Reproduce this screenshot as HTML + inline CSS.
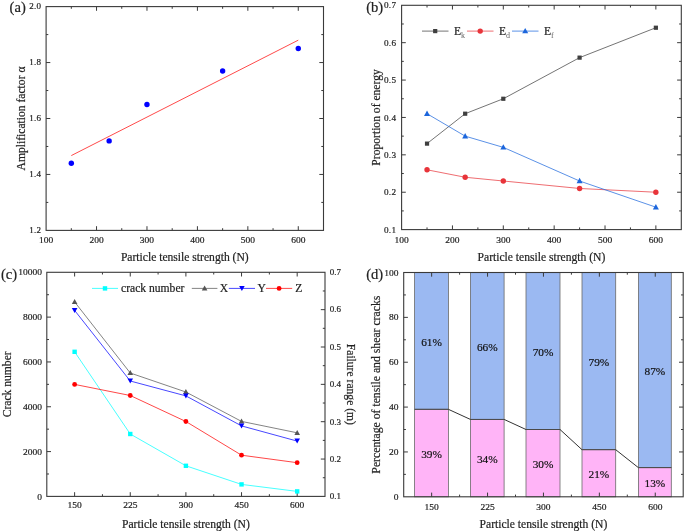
<!DOCTYPE html>
<html><head><meta charset="utf-8"><style>
html,body{margin:0;padding:0;background:#fff;}
svg{display:block;filter:blur(0.5px);}
text{font-family:"Liberation Serif", serif;}
</style></head><body>
<svg width="685" height="532" viewBox="0 0 685 532">
<rect width="685" height="532" fill="#fff"/>
<line x1="96.54" y1="230.40" x2="96.54" y2="226.20" stroke="#3a3a3a" stroke-width="1.0" />
<line x1="96.54" y1="6.60" x2="96.54" y2="10.80" stroke="#3a3a3a" stroke-width="1.0" />
<line x1="146.97" y1="230.40" x2="146.97" y2="226.20" stroke="#3a3a3a" stroke-width="1.0" />
<line x1="146.97" y1="6.60" x2="146.97" y2="10.80" stroke="#3a3a3a" stroke-width="1.0" />
<line x1="197.41" y1="230.40" x2="197.41" y2="226.20" stroke="#3a3a3a" stroke-width="1.0" />
<line x1="197.41" y1="6.60" x2="197.41" y2="10.80" stroke="#3a3a3a" stroke-width="1.0" />
<line x1="247.85" y1="230.40" x2="247.85" y2="226.20" stroke="#3a3a3a" stroke-width="1.0" />
<line x1="247.85" y1="6.60" x2="247.85" y2="10.80" stroke="#3a3a3a" stroke-width="1.0" />
<line x1="298.28" y1="230.40" x2="298.28" y2="226.20" stroke="#3a3a3a" stroke-width="1.0" />
<line x1="298.28" y1="6.60" x2="298.28" y2="10.80" stroke="#3a3a3a" stroke-width="1.0" />
<line x1="71.32" y1="230.40" x2="71.32" y2="228.20" stroke="#3a3a3a" stroke-width="1.0" />
<line x1="71.32" y1="6.60" x2="71.32" y2="8.80" stroke="#3a3a3a" stroke-width="1.0" />
<line x1="121.75" y1="230.40" x2="121.75" y2="228.20" stroke="#3a3a3a" stroke-width="1.0" />
<line x1="121.75" y1="6.60" x2="121.75" y2="8.80" stroke="#3a3a3a" stroke-width="1.0" />
<line x1="172.19" y1="230.40" x2="172.19" y2="228.20" stroke="#3a3a3a" stroke-width="1.0" />
<line x1="172.19" y1="6.60" x2="172.19" y2="8.80" stroke="#3a3a3a" stroke-width="1.0" />
<line x1="222.63" y1="230.40" x2="222.63" y2="228.20" stroke="#3a3a3a" stroke-width="1.0" />
<line x1="222.63" y1="6.60" x2="222.63" y2="8.80" stroke="#3a3a3a" stroke-width="1.0" />
<line x1="273.06" y1="230.40" x2="273.06" y2="228.20" stroke="#3a3a3a" stroke-width="1.0" />
<line x1="273.06" y1="6.60" x2="273.06" y2="8.80" stroke="#3a3a3a" stroke-width="1.0" />
<line x1="46.10" y1="174.45" x2="50.30" y2="174.45" stroke="#3a3a3a" stroke-width="1.0" />
<line x1="323.50" y1="174.45" x2="319.30" y2="174.45" stroke="#3a3a3a" stroke-width="1.0" />
<line x1="46.10" y1="118.50" x2="50.30" y2="118.50" stroke="#3a3a3a" stroke-width="1.0" />
<line x1="323.50" y1="118.50" x2="319.30" y2="118.50" stroke="#3a3a3a" stroke-width="1.0" />
<line x1="46.10" y1="62.55" x2="50.30" y2="62.55" stroke="#3a3a3a" stroke-width="1.0" />
<line x1="323.50" y1="62.55" x2="319.30" y2="62.55" stroke="#3a3a3a" stroke-width="1.0" />
<line x1="46.10" y1="202.42" x2="48.30" y2="202.42" stroke="#3a3a3a" stroke-width="1.0" />
<line x1="323.50" y1="202.42" x2="321.30" y2="202.42" stroke="#3a3a3a" stroke-width="1.0" />
<line x1="46.10" y1="146.47" x2="48.30" y2="146.47" stroke="#3a3a3a" stroke-width="1.0" />
<line x1="323.50" y1="146.47" x2="321.30" y2="146.47" stroke="#3a3a3a" stroke-width="1.0" />
<line x1="46.10" y1="90.53" x2="48.30" y2="90.53" stroke="#3a3a3a" stroke-width="1.0" />
<line x1="323.50" y1="90.53" x2="321.30" y2="90.53" stroke="#3a3a3a" stroke-width="1.0" />
<line x1="46.10" y1="34.58" x2="48.30" y2="34.58" stroke="#3a3a3a" stroke-width="1.0" />
<line x1="323.50" y1="34.58" x2="321.30" y2="34.58" stroke="#3a3a3a" stroke-width="1.0" />
<line x1="71.32" y1="155.57" x2="298.28" y2="40.17" stroke="#ff4a4a" stroke-width="1"/>
<circle cx="71.32" cy="163.26" r="2.7" fill="#0000ff"/>
<circle cx="109.15" cy="140.88" r="2.7" fill="#0000ff"/>
<circle cx="146.97" cy="104.51" r="2.7" fill="#0000ff"/>
<circle cx="222.63" cy="70.94" r="2.7" fill="#0000ff"/>
<circle cx="298.28" cy="48.56" r="2.7" fill="#0000ff"/>
<rect x="46.10" y="6.60" width="277.40" height="223.80" fill="none" stroke="#3a3a3a" stroke-width="1.1"/>
<text transform="translate(46.10,243.00) scale(1,0.93)" font-size="9.5" text-anchor="middle" fill="#222" stroke="#222" stroke-width="0.2" >100</text>
<text transform="translate(96.54,243.00) scale(1,0.93)" font-size="9.5" text-anchor="middle" fill="#222" stroke="#222" stroke-width="0.2" >200</text>
<text transform="translate(146.97,243.00) scale(1,0.93)" font-size="9.5" text-anchor="middle" fill="#222" stroke="#222" stroke-width="0.2" >300</text>
<text transform="translate(197.41,243.00) scale(1,0.93)" font-size="9.5" text-anchor="middle" fill="#222" stroke="#222" stroke-width="0.2" >400</text>
<text transform="translate(247.85,243.00) scale(1,0.93)" font-size="9.5" text-anchor="middle" fill="#222" stroke="#222" stroke-width="0.2" >500</text>
<text transform="translate(298.28,243.00) scale(1,0.93)" font-size="9.5" text-anchor="middle" fill="#222" stroke="#222" stroke-width="0.2" >600</text>
<text x="41.00" y="232.70" font-size="9" text-anchor="end" fill="#222" stroke="#222" stroke-width="0.2" >1<tspan dx="0.3">.</tspan><tspan dx="0.3">2</tspan></text>
<text x="41.00" y="176.75" font-size="9" text-anchor="end" fill="#222" stroke="#222" stroke-width="0.2" >1<tspan dx="0.3">.</tspan><tspan dx="0.3">4</tspan></text>
<text x="41.00" y="120.80" font-size="9" text-anchor="end" fill="#222" stroke="#222" stroke-width="0.2" >1<tspan dx="0.3">.</tspan><tspan dx="0.3">6</tspan></text>
<text x="41.00" y="64.85" font-size="9" text-anchor="end" fill="#222" stroke="#222" stroke-width="0.2" >1<tspan dx="0.3">.</tspan><tspan dx="0.3">8</tspan></text>
<text x="41.00" y="8.90" font-size="9" text-anchor="end" fill="#222" stroke="#222" stroke-width="0.2" >2<tspan dx="0.3">.</tspan><tspan dx="0.3">0</tspan></text>
<text x="184.80" y="261.00" font-size="11.6" text-anchor="middle" fill="#222" stroke="#222" stroke-width="0.2" >Particle tensile strength (N)</text>
<text transform="translate(25.0,118.50) rotate(-90)" font-size="11.6" text-anchor="middle" fill="#222" stroke="#222" stroke-width="0.2">Amplification factor α</text>
<text x="9.60" y="12.20" font-size="14.6" text-anchor="start" fill="#222" stroke="#222" stroke-width="0.2" >(a)</text>
<line x1="452.45" y1="229.60" x2="452.45" y2="225.40" stroke="#3a3a3a" stroke-width="1.0" />
<line x1="452.45" y1="5.30" x2="452.45" y2="9.50" stroke="#3a3a3a" stroke-width="1.0" />
<line x1="503.31" y1="229.60" x2="503.31" y2="225.40" stroke="#3a3a3a" stroke-width="1.0" />
<line x1="503.31" y1="5.30" x2="503.31" y2="9.50" stroke="#3a3a3a" stroke-width="1.0" />
<line x1="554.16" y1="229.60" x2="554.16" y2="225.40" stroke="#3a3a3a" stroke-width="1.0" />
<line x1="554.16" y1="5.30" x2="554.16" y2="9.50" stroke="#3a3a3a" stroke-width="1.0" />
<line x1="605.02" y1="229.60" x2="605.02" y2="225.40" stroke="#3a3a3a" stroke-width="1.0" />
<line x1="605.02" y1="5.30" x2="605.02" y2="9.50" stroke="#3a3a3a" stroke-width="1.0" />
<line x1="655.87" y1="229.60" x2="655.87" y2="225.40" stroke="#3a3a3a" stroke-width="1.0" />
<line x1="655.87" y1="5.30" x2="655.87" y2="9.50" stroke="#3a3a3a" stroke-width="1.0" />
<line x1="427.03" y1="229.60" x2="427.03" y2="227.40" stroke="#3a3a3a" stroke-width="1.0" />
<line x1="427.03" y1="5.30" x2="427.03" y2="7.50" stroke="#3a3a3a" stroke-width="1.0" />
<line x1="477.88" y1="229.60" x2="477.88" y2="227.40" stroke="#3a3a3a" stroke-width="1.0" />
<line x1="477.88" y1="5.30" x2="477.88" y2="7.50" stroke="#3a3a3a" stroke-width="1.0" />
<line x1="528.74" y1="229.60" x2="528.74" y2="227.40" stroke="#3a3a3a" stroke-width="1.0" />
<line x1="528.74" y1="5.30" x2="528.74" y2="7.50" stroke="#3a3a3a" stroke-width="1.0" />
<line x1="579.59" y1="229.60" x2="579.59" y2="227.40" stroke="#3a3a3a" stroke-width="1.0" />
<line x1="579.59" y1="5.30" x2="579.59" y2="7.50" stroke="#3a3a3a" stroke-width="1.0" />
<line x1="630.45" y1="229.60" x2="630.45" y2="227.40" stroke="#3a3a3a" stroke-width="1.0" />
<line x1="630.45" y1="5.30" x2="630.45" y2="7.50" stroke="#3a3a3a" stroke-width="1.0" />
<line x1="401.60" y1="192.22" x2="405.80" y2="192.22" stroke="#3a3a3a" stroke-width="1.0" />
<line x1="681.30" y1="192.22" x2="677.10" y2="192.22" stroke="#3a3a3a" stroke-width="1.0" />
<line x1="401.60" y1="154.83" x2="405.80" y2="154.83" stroke="#3a3a3a" stroke-width="1.0" />
<line x1="681.30" y1="154.83" x2="677.10" y2="154.83" stroke="#3a3a3a" stroke-width="1.0" />
<line x1="401.60" y1="117.45" x2="405.80" y2="117.45" stroke="#3a3a3a" stroke-width="1.0" />
<line x1="681.30" y1="117.45" x2="677.10" y2="117.45" stroke="#3a3a3a" stroke-width="1.0" />
<line x1="401.60" y1="80.07" x2="405.80" y2="80.07" stroke="#3a3a3a" stroke-width="1.0" />
<line x1="681.30" y1="80.07" x2="677.10" y2="80.07" stroke="#3a3a3a" stroke-width="1.0" />
<line x1="401.60" y1="42.68" x2="405.80" y2="42.68" stroke="#3a3a3a" stroke-width="1.0" />
<line x1="681.30" y1="42.68" x2="677.10" y2="42.68" stroke="#3a3a3a" stroke-width="1.0" />
<line x1="401.60" y1="210.91" x2="403.80" y2="210.91" stroke="#3a3a3a" stroke-width="1.0" />
<line x1="681.30" y1="210.91" x2="679.10" y2="210.91" stroke="#3a3a3a" stroke-width="1.0" />
<line x1="401.60" y1="173.53" x2="403.80" y2="173.53" stroke="#3a3a3a" stroke-width="1.0" />
<line x1="681.30" y1="173.53" x2="679.10" y2="173.53" stroke="#3a3a3a" stroke-width="1.0" />
<line x1="401.60" y1="136.14" x2="403.80" y2="136.14" stroke="#3a3a3a" stroke-width="1.0" />
<line x1="681.30" y1="136.14" x2="679.10" y2="136.14" stroke="#3a3a3a" stroke-width="1.0" />
<line x1="401.60" y1="98.76" x2="403.80" y2="98.76" stroke="#3a3a3a" stroke-width="1.0" />
<line x1="681.30" y1="98.76" x2="679.10" y2="98.76" stroke="#3a3a3a" stroke-width="1.0" />
<line x1="401.60" y1="61.37" x2="403.80" y2="61.37" stroke="#3a3a3a" stroke-width="1.0" />
<line x1="681.30" y1="61.37" x2="679.10" y2="61.37" stroke="#3a3a3a" stroke-width="1.0" />
<line x1="401.60" y1="23.99" x2="403.80" y2="23.99" stroke="#3a3a3a" stroke-width="1.0" />
<line x1="681.30" y1="23.99" x2="679.10" y2="23.99" stroke="#3a3a3a" stroke-width="1.0" />
<polyline points="427.03,143.62 465.17,113.71 503.31,98.76 579.59,57.64 655.87,27.73" fill="none" stroke="#3f3f3f" stroke-width="1" stroke-opacity="0.72"/>
<polyline points="427.03,169.79 465.17,177.26 503.31,181.00 579.59,188.48 655.87,192.22" fill="none" stroke="#e8343a" stroke-width="1" stroke-opacity="0.72"/>
<polyline points="427.03,113.71 465.17,136.14 503.31,147.36 579.59,181.00 655.87,207.17" fill="none" stroke="#1c66dc" stroke-width="1" stroke-opacity="0.72"/>
<rect x="424.93" y="141.52" width="4.2" height="4.2" fill="#3f3f3f"/>
<rect x="463.07" y="111.61" width="4.2" height="4.2" fill="#3f3f3f"/>
<rect x="501.21" y="96.66" width="4.2" height="4.2" fill="#3f3f3f"/>
<rect x="577.49" y="55.54" width="4.2" height="4.2" fill="#3f3f3f"/>
<rect x="653.77" y="25.63" width="4.2" height="4.2" fill="#3f3f3f"/>
<circle cx="427.03" cy="169.79" r="2.7" fill="#e8343a"/>
<circle cx="465.17" cy="177.26" r="2.7" fill="#e8343a"/>
<circle cx="503.31" cy="181.00" r="2.7" fill="#e8343a"/>
<circle cx="579.59" cy="188.48" r="2.7" fill="#e8343a"/>
<circle cx="655.87" cy="192.22" r="2.7" fill="#e8343a"/>
<polygon points="424.03,115.98 430.03,115.98 427.03,110.58" fill="#1c66dc"/>
<polygon points="462.17,138.41 468.17,138.41 465.17,133.01" fill="#1c66dc"/>
<polygon points="500.31,149.62 506.31,149.62 503.31,144.22" fill="#1c66dc"/>
<polygon points="576.59,183.27 582.59,183.27 579.59,177.87" fill="#1c66dc"/>
<polygon points="652.87,209.44 658.87,209.44 655.87,204.04" fill="#1c66dc"/>
<line x1="422.00" y1="31.10" x2="448.50" y2="31.10" stroke="#3f3f3f" stroke-width="1" stroke-opacity="0.72"/>
<rect x="433.10" y="29.00" width="4.2" height="4.2" fill="#3f3f3f"/>
<text x="454.00" y="35.20" font-size="11.6" fill="#222" stroke="#222" stroke-width="0.2">E<tspan font-size="8" dy="2.6" fill="#666" stroke="none">k</tspan></text>
<line x1="467.00" y1="31.10" x2="493.50" y2="31.10" stroke="#e8343a" stroke-width="1" stroke-opacity="0.72"/>
<circle cx="480.20" cy="31.10" r="2.7" fill="#e8343a"/>
<text x="499.00" y="35.20" font-size="11.6" fill="#222" stroke="#222" stroke-width="0.2">E<tspan font-size="8" dy="2.6" fill="#666" stroke="none">d</tspan></text>
<line x1="512.00" y1="31.10" x2="538.50" y2="31.10" stroke="#1c66dc" stroke-width="1" stroke-opacity="0.72"/>
<polygon points="522.20,33.37 528.20,33.37 525.20,27.97" fill="#1c66dc"/>
<text x="544.00" y="35.20" font-size="11.6" fill="#222" stroke="#222" stroke-width="0.2">E<tspan font-size="8" dy="2.6" fill="#666" stroke="none">f</tspan></text>
<rect x="401.60" y="5.30" width="279.70" height="224.30" fill="none" stroke="#3a3a3a" stroke-width="1.1"/>
<text transform="translate(401.60,242.70) scale(1,0.93)" font-size="9.5" text-anchor="middle" fill="#222" stroke="#222" stroke-width="0.2" >100</text>
<text transform="translate(452.45,242.70) scale(1,0.93)" font-size="9.5" text-anchor="middle" fill="#222" stroke="#222" stroke-width="0.2" >200</text>
<text transform="translate(503.31,242.70) scale(1,0.93)" font-size="9.5" text-anchor="middle" fill="#222" stroke="#222" stroke-width="0.2" >300</text>
<text transform="translate(554.16,242.70) scale(1,0.93)" font-size="9.5" text-anchor="middle" fill="#222" stroke="#222" stroke-width="0.2" >400</text>
<text transform="translate(605.02,242.70) scale(1,0.93)" font-size="9.5" text-anchor="middle" fill="#222" stroke="#222" stroke-width="0.2" >500</text>
<text transform="translate(655.87,242.70) scale(1,0.93)" font-size="9.5" text-anchor="middle" fill="#222" stroke="#222" stroke-width="0.2" >600</text>
<text x="396.00" y="232.70" font-size="9.2" text-anchor="end" fill="#222" stroke="#222" stroke-width="0.2" >0<tspan dx="0.3">.</tspan><tspan dx="0.3">1</tspan></text>
<text x="396.00" y="195.32" font-size="9.2" text-anchor="end" fill="#222" stroke="#222" stroke-width="0.2" >0<tspan dx="0.3">.</tspan><tspan dx="0.3">2</tspan></text>
<text x="396.00" y="157.93" font-size="9.2" text-anchor="end" fill="#222" stroke="#222" stroke-width="0.2" >0<tspan dx="0.3">.</tspan><tspan dx="0.3">3</tspan></text>
<text x="396.00" y="120.55" font-size="9.2" text-anchor="end" fill="#222" stroke="#222" stroke-width="0.2" >0<tspan dx="0.3">.</tspan><tspan dx="0.3">4</tspan></text>
<text x="396.00" y="83.17" font-size="9.2" text-anchor="end" fill="#222" stroke="#222" stroke-width="0.2" >0<tspan dx="0.3">.</tspan><tspan dx="0.3">5</tspan></text>
<text x="396.00" y="45.78" font-size="9.2" text-anchor="end" fill="#222" stroke="#222" stroke-width="0.2" >0<tspan dx="0.3">.</tspan><tspan dx="0.3">6</tspan></text>
<text x="396.00" y="8.40" font-size="9.2" text-anchor="end" fill="#222" stroke="#222" stroke-width="0.2" >0<tspan dx="0.3">.</tspan><tspan dx="0.3">7</tspan></text>
<text x="541.45" y="261.00" font-size="11.6" text-anchor="middle" fill="#222" stroke="#222" stroke-width="0.2" >Particle tensile strength (N)</text>
<text transform="translate(379.5,117.45) rotate(-90)" font-size="11.6" text-anchor="middle" fill="#222" stroke="#222" stroke-width="0.2">Proportion of energy</text>
<text x="366.20" y="11.90" font-size="14.6" text-anchor="start" fill="#222" stroke="#222" stroke-width="0.2" >(b)</text>
<line x1="74.62" y1="496.40" x2="74.62" y2="492.20" stroke="#3a3a3a" stroke-width="1.0" />
<line x1="74.62" y1="272.30" x2="74.62" y2="276.50" stroke="#3a3a3a" stroke-width="1.0" />
<line x1="130.26" y1="496.40" x2="130.26" y2="492.20" stroke="#3a3a3a" stroke-width="1.0" />
<line x1="130.26" y1="272.30" x2="130.26" y2="276.50" stroke="#3a3a3a" stroke-width="1.0" />
<line x1="185.90" y1="496.40" x2="185.90" y2="492.20" stroke="#3a3a3a" stroke-width="1.0" />
<line x1="185.90" y1="272.30" x2="185.90" y2="276.50" stroke="#3a3a3a" stroke-width="1.0" />
<line x1="241.54" y1="496.40" x2="241.54" y2="492.20" stroke="#3a3a3a" stroke-width="1.0" />
<line x1="241.54" y1="272.30" x2="241.54" y2="276.50" stroke="#3a3a3a" stroke-width="1.0" />
<line x1="297.18" y1="496.40" x2="297.18" y2="492.20" stroke="#3a3a3a" stroke-width="1.0" />
<line x1="297.18" y1="272.30" x2="297.18" y2="276.50" stroke="#3a3a3a" stroke-width="1.0" />
<line x1="102.44" y1="496.40" x2="102.44" y2="494.20" stroke="#3a3a3a" stroke-width="1.0" />
<line x1="102.44" y1="272.30" x2="102.44" y2="274.50" stroke="#3a3a3a" stroke-width="1.0" />
<line x1="158.08" y1="496.40" x2="158.08" y2="494.20" stroke="#3a3a3a" stroke-width="1.0" />
<line x1="158.08" y1="272.30" x2="158.08" y2="274.50" stroke="#3a3a3a" stroke-width="1.0" />
<line x1="213.72" y1="496.40" x2="213.72" y2="494.20" stroke="#3a3a3a" stroke-width="1.0" />
<line x1="213.72" y1="272.30" x2="213.72" y2="274.50" stroke="#3a3a3a" stroke-width="1.0" />
<line x1="269.36" y1="496.40" x2="269.36" y2="494.20" stroke="#3a3a3a" stroke-width="1.0" />
<line x1="269.36" y1="272.30" x2="269.36" y2="274.50" stroke="#3a3a3a" stroke-width="1.0" />
<line x1="46.80" y1="451.58" x2="51.00" y2="451.58" stroke="#3a3a3a" stroke-width="1.0" />
<line x1="46.80" y1="406.76" x2="51.00" y2="406.76" stroke="#3a3a3a" stroke-width="1.0" />
<line x1="46.80" y1="361.94" x2="51.00" y2="361.94" stroke="#3a3a3a" stroke-width="1.0" />
<line x1="46.80" y1="317.12" x2="51.00" y2="317.12" stroke="#3a3a3a" stroke-width="1.0" />
<line x1="46.80" y1="473.99" x2="49.00" y2="473.99" stroke="#3a3a3a" stroke-width="1.0" />
<line x1="46.80" y1="429.17" x2="49.00" y2="429.17" stroke="#3a3a3a" stroke-width="1.0" />
<line x1="46.80" y1="384.35" x2="49.00" y2="384.35" stroke="#3a3a3a" stroke-width="1.0" />
<line x1="46.80" y1="339.53" x2="49.00" y2="339.53" stroke="#3a3a3a" stroke-width="1.0" />
<line x1="46.80" y1="294.71" x2="49.00" y2="294.71" stroke="#3a3a3a" stroke-width="1.0" />
<line x1="325.00" y1="459.05" x2="320.80" y2="459.05" stroke="#3a3a3a" stroke-width="1.0" />
<line x1="325.00" y1="421.70" x2="320.80" y2="421.70" stroke="#3a3a3a" stroke-width="1.0" />
<line x1="325.00" y1="384.35" x2="320.80" y2="384.35" stroke="#3a3a3a" stroke-width="1.0" />
<line x1="325.00" y1="347.00" x2="320.80" y2="347.00" stroke="#3a3a3a" stroke-width="1.0" />
<line x1="325.00" y1="309.65" x2="320.80" y2="309.65" stroke="#3a3a3a" stroke-width="1.0" />
<line x1="325.00" y1="477.72" x2="322.80" y2="477.72" stroke="#3a3a3a" stroke-width="1.0" />
<line x1="325.00" y1="440.38" x2="322.80" y2="440.38" stroke="#3a3a3a" stroke-width="1.0" />
<line x1="325.00" y1="403.02" x2="322.80" y2="403.02" stroke="#3a3a3a" stroke-width="1.0" />
<line x1="325.00" y1="365.67" x2="322.80" y2="365.67" stroke="#3a3a3a" stroke-width="1.0" />
<line x1="325.00" y1="328.32" x2="322.80" y2="328.32" stroke="#3a3a3a" stroke-width="1.0" />
<line x1="325.00" y1="290.98" x2="322.80" y2="290.98" stroke="#3a3a3a" stroke-width="1.0" />
<polyline points="74.62,351.80 130.26,434.00 185.90,465.80 241.54,484.40 297.18,491.40" fill="none" stroke="#00ffff" stroke-width="1" stroke-opacity="0.72"/>
<polyline points="74.62,301.90 130.26,373.00 185.90,392.00 241.54,421.40 297.18,432.80" fill="none" stroke="#555555" stroke-width="1" stroke-opacity="0.72"/>
<polyline points="74.62,310.40 130.26,381.00 185.90,395.90 241.54,425.90 297.18,441.10" fill="none" stroke="#0000ff" stroke-width="1" stroke-opacity="0.72"/>
<polyline points="74.62,384.40 130.26,395.50 185.90,421.50 241.54,455.20 297.18,462.70" fill="none" stroke="#ff0000" stroke-width="1" stroke-opacity="0.72"/>
<rect x="72.42" y="349.60" width="4.4" height="4.4" fill="#00ffff"/>
<rect x="128.06" y="431.80" width="4.4" height="4.4" fill="#00ffff"/>
<rect x="183.70" y="463.60" width="4.4" height="4.4" fill="#00ffff"/>
<rect x="239.34" y="482.20" width="4.4" height="4.4" fill="#00ffff"/>
<rect x="294.98" y="489.20" width="4.4" height="4.4" fill="#00ffff"/>
<polygon points="71.82,304.02 77.42,304.02 74.62,298.98" fill="#555555"/>
<polygon points="127.46,375.12 133.06,375.12 130.26,370.08" fill="#555555"/>
<polygon points="183.10,394.12 188.70,394.12 185.90,389.08" fill="#555555"/>
<polygon points="238.74,423.52 244.34,423.52 241.54,418.48" fill="#555555"/>
<polygon points="294.38,434.92 299.98,434.92 297.18,429.88" fill="#555555"/>
<polygon points="71.82,307.88 77.42,307.88 74.62,312.92" fill="#0000ff"/>
<polygon points="127.46,378.48 133.06,378.48 130.26,383.52" fill="#0000ff"/>
<polygon points="183.10,393.38 188.70,393.38 185.90,398.42" fill="#0000ff"/>
<polygon points="238.74,423.38 244.34,423.38 241.54,428.42" fill="#0000ff"/>
<polygon points="294.38,438.58 299.98,438.58 297.18,443.62" fill="#0000ff"/>
<circle cx="74.62" cy="384.40" r="2.4" fill="#ff0000"/>
<circle cx="130.26" cy="395.50" r="2.4" fill="#ff0000"/>
<circle cx="185.90" cy="421.50" r="2.4" fill="#ff0000"/>
<circle cx="241.54" cy="455.20" r="2.4" fill="#ff0000"/>
<circle cx="297.18" cy="462.70" r="2.4" fill="#ff0000"/>
<line x1="92.00" y1="288.40" x2="118.00" y2="288.40" stroke="#00ffff" stroke-width="1" stroke-opacity="0.72"/>
<rect x="102.80" y="286.20" width="4.4" height="4.4" fill="#00ffff"/>
<text x="121.00" y="292.00" font-size="11.6" text-anchor="start" fill="#222" stroke="#222" stroke-width="0.2" >crack number</text>
<line x1="191.80" y1="288.40" x2="217.40" y2="288.40" stroke="#555555" stroke-width="1" stroke-opacity="0.72"/>
<polygon points="201.80,290.52 207.40,290.52 204.60,285.48" fill="#555555"/>
<text x="219.80" y="292.00" font-size="11.6" text-anchor="start" fill="#222" stroke="#222" stroke-width="0.2" >X</text>
<line x1="228.80" y1="288.40" x2="255.00" y2="288.40" stroke="#0000ff" stroke-width="1" stroke-opacity="0.72"/>
<polygon points="239.10,285.88 244.70,285.88 241.90,290.92" fill="#0000ff"/>
<text x="257.60" y="292.00" font-size="11.6" text-anchor="start" fill="#222" stroke="#222" stroke-width="0.2" >Y</text>
<line x1="266.00" y1="288.40" x2="292.20" y2="288.40" stroke="#ff0000" stroke-width="1" stroke-opacity="0.72"/>
<circle cx="279.10" cy="288.40" r="2.4" fill="#ff0000"/>
<text x="295.20" y="292.00" font-size="11.6" text-anchor="start" fill="#222" stroke="#222" stroke-width="0.2" >Z</text>
<rect x="46.80" y="272.30" width="278.20" height="224.10" fill="none" stroke="#3a3a3a" stroke-width="1.1"/>
<text transform="translate(74.62,508.30) scale(1,0.93)" font-size="9.5" text-anchor="middle" fill="#222" stroke="#222" stroke-width="0.2" >150</text>
<text transform="translate(130.26,508.30) scale(1,0.93)" font-size="9.5" text-anchor="middle" fill="#222" stroke="#222" stroke-width="0.2" >225</text>
<text transform="translate(185.90,508.30) scale(1,0.93)" font-size="9.5" text-anchor="middle" fill="#222" stroke="#222" stroke-width="0.2" >300</text>
<text transform="translate(241.54,508.30) scale(1,0.93)" font-size="9.5" text-anchor="middle" fill="#222" stroke="#222" stroke-width="0.2" >450</text>
<text transform="translate(297.18,508.30) scale(1,0.93)" font-size="9.5" text-anchor="middle" fill="#222" stroke="#222" stroke-width="0.2" >600</text>
<text transform="translate(42.00,499.50) scale(1,0.93)" font-size="9.5" text-anchor="end" fill="#222" stroke="#222" stroke-width="0.2" >0</text>
<text transform="translate(42.00,454.68) scale(1,0.93)" font-size="9.5" text-anchor="end" fill="#222" stroke="#222" stroke-width="0.2" >2000</text>
<text transform="translate(42.00,409.86) scale(1,0.93)" font-size="9.5" text-anchor="end" fill="#222" stroke="#222" stroke-width="0.2" >4000</text>
<text transform="translate(42.00,365.04) scale(1,0.93)" font-size="9.5" text-anchor="end" fill="#222" stroke="#222" stroke-width="0.2" >6000</text>
<text transform="translate(42.00,320.22) scale(1,0.93)" font-size="9.5" text-anchor="end" fill="#222" stroke="#222" stroke-width="0.2" >8000</text>
<text transform="translate(42.00,275.40) scale(1,0.93)" font-size="9.5" text-anchor="end" fill="#222" stroke="#222" stroke-width="0.2" >10000</text>
<text x="329.80" y="499.20" font-size="9" text-anchor="start" fill="#222" stroke="#222" stroke-width="0.2" >0.1</text>
<text x="329.80" y="461.85" font-size="9" text-anchor="start" fill="#222" stroke="#222" stroke-width="0.2" >0.2</text>
<text x="329.80" y="424.50" font-size="9" text-anchor="start" fill="#222" stroke="#222" stroke-width="0.2" >0.3</text>
<text x="329.80" y="387.15" font-size="9" text-anchor="start" fill="#222" stroke="#222" stroke-width="0.2" >0.4</text>
<text x="329.80" y="349.80" font-size="9" text-anchor="start" fill="#222" stroke="#222" stroke-width="0.2" >0.5</text>
<text x="329.80" y="312.45" font-size="9" text-anchor="start" fill="#222" stroke="#222" stroke-width="0.2" >0.6</text>
<text x="329.80" y="275.10" font-size="9" text-anchor="start" fill="#222" stroke="#222" stroke-width="0.2" >0.7</text>
<text x="185.90" y="527.70" font-size="11.6" text-anchor="middle" fill="#222" stroke="#222" stroke-width="0.2" >Particle tensile strength (N)</text>
<text transform="translate(11.1,384.35) rotate(-90)" font-size="11.6" text-anchor="middle" fill="#222" stroke="#222" stroke-width="0.2">Crack number</text>
<text transform="translate(346.5,384.35) rotate(90)" font-size="11.6" text-anchor="middle" fill="#222" stroke="#222" stroke-width="0.2">Failure range (m)</text>
<text x="1.00" y="278.80" font-size="14.6" text-anchor="start" fill="#222" stroke="#222" stroke-width="0.2" >(c)</text>
<rect x="414.60" y="272.50" width="33.80" height="136.82" fill="#9bb9f2" stroke="#6a6a6a" stroke-width="0.8"/>
<rect x="414.60" y="409.32" width="33.80" height="87.48" fill="#ffb4f7" stroke="#6a6a6a" stroke-width="0.8"/>
<line x1="414.60" y1="409.32" x2="448.40" y2="409.32" stroke="#444" stroke-width="0.9" />
<rect x="470.40" y="272.50" width="33.70" height="146.92" fill="#9bb9f2" stroke="#6a6a6a" stroke-width="0.8"/>
<rect x="470.40" y="419.42" width="33.70" height="77.38" fill="#ffb4f7" stroke="#6a6a6a" stroke-width="0.8"/>
<line x1="470.40" y1="419.42" x2="504.10" y2="419.42" stroke="#444" stroke-width="0.9" />
<rect x="526.00" y="272.50" width="34.00" height="157.01" fill="#9bb9f2" stroke="#6a6a6a" stroke-width="0.8"/>
<rect x="526.00" y="429.51" width="34.00" height="67.29" fill="#ffb4f7" stroke="#6a6a6a" stroke-width="0.8"/>
<line x1="526.00" y1="429.51" x2="560.00" y2="429.51" stroke="#444" stroke-width="0.9" />
<rect x="582.00" y="272.50" width="33.70" height="177.20" fill="#9bb9f2" stroke="#6a6a6a" stroke-width="0.8"/>
<rect x="582.00" y="449.70" width="33.70" height="47.10" fill="#ffb4f7" stroke="#6a6a6a" stroke-width="0.8"/>
<line x1="582.00" y1="449.70" x2="615.70" y2="449.70" stroke="#444" stroke-width="0.9" />
<rect x="638.40" y="272.50" width="32.90" height="195.14" fill="#9bb9f2" stroke="#6a6a6a" stroke-width="0.8"/>
<rect x="638.40" y="467.64" width="32.90" height="29.16" fill="#ffb4f7" stroke="#6a6a6a" stroke-width="0.8"/>
<line x1="638.40" y1="467.64" x2="671.30" y2="467.64" stroke="#444" stroke-width="0.9" />
<line x1="448.40" y1="409.32" x2="470.40" y2="419.42" stroke="#333" stroke-width="1" />
<line x1="504.10" y1="419.42" x2="526.00" y2="429.51" stroke="#333" stroke-width="1" />
<line x1="560.00" y1="429.51" x2="582.00" y2="449.70" stroke="#333" stroke-width="1" />
<line x1="615.70" y1="449.70" x2="638.40" y2="467.64" stroke="#333" stroke-width="1" />
<line x1="431.65" y1="496.80" x2="431.65" y2="492.60" stroke="#3a3a3a" stroke-width="1.0" />
<line x1="431.65" y1="272.50" x2="431.65" y2="276.70" stroke="#3a3a3a" stroke-width="1.0" />
<line x1="487.55" y1="496.80" x2="487.55" y2="492.60" stroke="#3a3a3a" stroke-width="1.0" />
<line x1="487.55" y1="272.50" x2="487.55" y2="276.70" stroke="#3a3a3a" stroke-width="1.0" />
<line x1="543.45" y1="496.80" x2="543.45" y2="492.60" stroke="#3a3a3a" stroke-width="1.0" />
<line x1="543.45" y1="272.50" x2="543.45" y2="276.70" stroke="#3a3a3a" stroke-width="1.0" />
<line x1="599.35" y1="496.80" x2="599.35" y2="492.60" stroke="#3a3a3a" stroke-width="1.0" />
<line x1="599.35" y1="272.50" x2="599.35" y2="276.70" stroke="#3a3a3a" stroke-width="1.0" />
<line x1="655.25" y1="496.80" x2="655.25" y2="492.60" stroke="#3a3a3a" stroke-width="1.0" />
<line x1="655.25" y1="272.50" x2="655.25" y2="276.70" stroke="#3a3a3a" stroke-width="1.0" />
<line x1="459.60" y1="496.80" x2="459.60" y2="494.60" stroke="#3a3a3a" stroke-width="1.0" />
<line x1="459.60" y1="272.50" x2="459.60" y2="274.70" stroke="#3a3a3a" stroke-width="1.0" />
<line x1="515.50" y1="496.80" x2="515.50" y2="494.60" stroke="#3a3a3a" stroke-width="1.0" />
<line x1="515.50" y1="272.50" x2="515.50" y2="274.70" stroke="#3a3a3a" stroke-width="1.0" />
<line x1="571.40" y1="496.80" x2="571.40" y2="494.60" stroke="#3a3a3a" stroke-width="1.0" />
<line x1="571.40" y1="272.50" x2="571.40" y2="274.70" stroke="#3a3a3a" stroke-width="1.0" />
<line x1="627.30" y1="496.80" x2="627.30" y2="494.60" stroke="#3a3a3a" stroke-width="1.0" />
<line x1="627.30" y1="272.50" x2="627.30" y2="274.70" stroke="#3a3a3a" stroke-width="1.0" />
<line x1="403.70" y1="451.94" x2="407.90" y2="451.94" stroke="#3a3a3a" stroke-width="1.0" />
<line x1="683.20" y1="451.94" x2="679.00" y2="451.94" stroke="#3a3a3a" stroke-width="1.0" />
<line x1="403.70" y1="407.08" x2="407.90" y2="407.08" stroke="#3a3a3a" stroke-width="1.0" />
<line x1="683.20" y1="407.08" x2="679.00" y2="407.08" stroke="#3a3a3a" stroke-width="1.0" />
<line x1="403.70" y1="362.22" x2="407.90" y2="362.22" stroke="#3a3a3a" stroke-width="1.0" />
<line x1="683.20" y1="362.22" x2="679.00" y2="362.22" stroke="#3a3a3a" stroke-width="1.0" />
<line x1="403.70" y1="317.36" x2="407.90" y2="317.36" stroke="#3a3a3a" stroke-width="1.0" />
<line x1="683.20" y1="317.36" x2="679.00" y2="317.36" stroke="#3a3a3a" stroke-width="1.0" />
<line x1="403.70" y1="474.37" x2="405.90" y2="474.37" stroke="#3a3a3a" stroke-width="1.0" />
<line x1="683.20" y1="474.37" x2="681.00" y2="474.37" stroke="#3a3a3a" stroke-width="1.0" />
<line x1="403.70" y1="429.51" x2="405.90" y2="429.51" stroke="#3a3a3a" stroke-width="1.0" />
<line x1="683.20" y1="429.51" x2="681.00" y2="429.51" stroke="#3a3a3a" stroke-width="1.0" />
<line x1="403.70" y1="384.65" x2="405.90" y2="384.65" stroke="#3a3a3a" stroke-width="1.0" />
<line x1="683.20" y1="384.65" x2="681.00" y2="384.65" stroke="#3a3a3a" stroke-width="1.0" />
<line x1="403.70" y1="339.79" x2="405.90" y2="339.79" stroke="#3a3a3a" stroke-width="1.0" />
<line x1="683.20" y1="339.79" x2="681.00" y2="339.79" stroke="#3a3a3a" stroke-width="1.0" />
<line x1="403.70" y1="294.93" x2="405.90" y2="294.93" stroke="#3a3a3a" stroke-width="1.0" />
<line x1="683.20" y1="294.93" x2="681.00" y2="294.93" stroke="#3a3a3a" stroke-width="1.0" />
<text x="431.50" y="345.51" font-size="11.3" text-anchor="middle" fill="#111" stroke="#111" stroke-width="0.2" >61%</text>
<text x="431.50" y="458.26" font-size="11.3" text-anchor="middle" fill="#111" stroke="#111" stroke-width="0.2" >39%</text>
<text x="487.25" y="350.56" font-size="11.3" text-anchor="middle" fill="#111" stroke="#111" stroke-width="0.2" >66%</text>
<text x="487.25" y="463.31" font-size="11.3" text-anchor="middle" fill="#111" stroke="#111" stroke-width="0.2" >34%</text>
<text x="543.00" y="355.61" font-size="11.3" text-anchor="middle" fill="#111" stroke="#111" stroke-width="0.2" >70%</text>
<text x="543.00" y="468.36" font-size="11.3" text-anchor="middle" fill="#111" stroke="#111" stroke-width="0.2" >30%</text>
<text x="598.85" y="365.70" font-size="11.3" text-anchor="middle" fill="#111" stroke="#111" stroke-width="0.2" >79%</text>
<text x="598.85" y="478.45" font-size="11.3" text-anchor="middle" fill="#111" stroke="#111" stroke-width="0.2" >21%</text>
<text x="654.85" y="374.67" font-size="11.3" text-anchor="middle" fill="#111" stroke="#111" stroke-width="0.2" >87%</text>
<text x="654.85" y="487.42" font-size="11.3" text-anchor="middle" fill="#111" stroke="#111" stroke-width="0.2" >13%</text>
<rect x="403.70" y="272.50" width="279.50" height="224.30" fill="none" stroke="#3a3a3a" stroke-width="1.1"/>
<text transform="translate(431.65,509.80) scale(1,0.93)" font-size="9.5" text-anchor="middle" fill="#222" stroke="#222" stroke-width="0.2" >150</text>
<text transform="translate(487.55,509.80) scale(1,0.93)" font-size="9.5" text-anchor="middle" fill="#222" stroke="#222" stroke-width="0.2" >225</text>
<text transform="translate(543.45,509.80) scale(1,0.93)" font-size="9.5" text-anchor="middle" fill="#222" stroke="#222" stroke-width="0.2" >300</text>
<text transform="translate(599.35,509.80) scale(1,0.93)" font-size="9.5" text-anchor="middle" fill="#222" stroke="#222" stroke-width="0.2" >450</text>
<text transform="translate(655.25,509.80) scale(1,0.93)" font-size="9.5" text-anchor="middle" fill="#222" stroke="#222" stroke-width="0.2" >600</text>
<text transform="translate(398.40,499.90) scale(1,0.93)" font-size="9.5" text-anchor="end" fill="#222" stroke="#222" stroke-width="0.2" >0</text>
<text transform="translate(398.40,455.04) scale(1,0.93)" font-size="9.5" text-anchor="end" fill="#222" stroke="#222" stroke-width="0.2" >20</text>
<text transform="translate(398.40,410.18) scale(1,0.93)" font-size="9.5" text-anchor="end" fill="#222" stroke="#222" stroke-width="0.2" >40</text>
<text transform="translate(398.40,365.32) scale(1,0.93)" font-size="9.5" text-anchor="end" fill="#222" stroke="#222" stroke-width="0.2" >60</text>
<text transform="translate(398.40,320.46) scale(1,0.93)" font-size="9.5" text-anchor="end" fill="#222" stroke="#222" stroke-width="0.2" >80</text>
<text transform="translate(398.40,275.60) scale(1,0.93)" font-size="9.5" text-anchor="end" fill="#222" stroke="#222" stroke-width="0.2" >100</text>
<text x="543.45" y="527.50" font-size="11.6" text-anchor="middle" fill="#222" stroke="#222" stroke-width="0.2" >Particle tensile strength (N)</text>
<text transform="translate(379.6,384.65) rotate(-90)" font-size="11.72" text-anchor="middle" fill="#222" stroke="#222" stroke-width="0.2">Percentage of tensile and shear cracks</text>
<text x="366.20" y="279.00" font-size="14.6" text-anchor="start" fill="#222" stroke="#222" stroke-width="0.2" >(d)</text>
</svg>
</body></html>
